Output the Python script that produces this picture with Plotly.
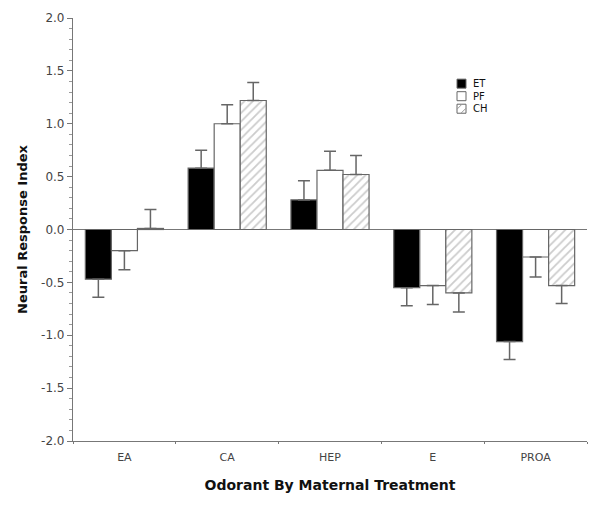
import plotly.graph_objects as go

odorants = ["EA", "CA", "HEP", "E", "PROA"]
treatments = ["ET", "PF", "CH"]
et_vals = [-0.47, 0.58, 0.28, -0.55, -1.06]
pf_vals = [-0.20, 1.00, 0.56, -0.53, -0.26]
ch_vals = [0.01, 1.22, 0.52, -0.60, -0.53]
et_err = [0.17, 0.17, 0.18, 0.17, 0.17]
pf_err = [0.18, 0.18, 0.18, 0.18, 0.19]
ch_err = [0.18, 0.17, 0.18, 0.18, 0.17]
y_ticks = [-2.0, -1.5, -1.0, -0.5, 0.0, 0.5, 1.0, 1.5, 2.0]

EDGE = "#666666"
HATCH = "#999999"

def err_arrays(vals, errs):
    up = [e if v >= 0 else 0 for v, e in zip(vals, errs)]
    dn = [e if v < 0 else 0 for v, e in zip(vals, errs)]
    return up, dn

styles = {
    "ET": dict(marker_color="black", marker_pattern=dict(shape="")),
    "PF": dict(marker_color="white", marker_pattern=dict(shape="")),
    "CH": dict(marker_color="white",
               marker_pattern=dict(shape="/", fgcolor=HATCH, size=6, solidity=0.3)),
}

fig = go.Figure()
for name, vals, errs in [("ET", et_vals, et_err), ("PF", pf_vals, pf_err), ("CH", ch_vals, ch_err)]:
    up, dn = err_arrays(vals, errs)
    fig.add_trace(go.Bar(
        x=odorants, y=vals, name=name, showlegend=False,
        marker_line=dict(color=EDGE, width=1.2),
        error_y=dict(type="data", symmetric=False, array=up, arrayminus=dn,
                     color=EDGE, thickness=1.5, width=6),
        **styles[name],
    ))

# compact legend (plot-area pixel layout -> paper coordinates)
PW, PH = 514, 422
def px(x): return x / PW
def py(y): return 1 - y / PH
leg_x, leg_y0, sq, step = 384, 61, 9, 12.5
fills = {"ET": "black", "PF": "white", "CH": "white"}
for i, name in enumerate(treatments):
    top = leg_y0 + i * step
    fig.add_shape(type="rect", xref="paper", yref="paper",
                  x0=px(leg_x), x1=px(leg_x + sq), y0=py(top + sq), y1=py(top),
                  fillcolor=fills[name], line=dict(color=EDGE, width=1))
    if name == "CH":
        for a, b in [(0, 5), (4, 9)]:
            fig.add_shape(type="line", xref="paper", yref="paper",
                          x0=px(leg_x + a), y0=py(top + b), x1=px(leg_x + b), y1=py(top + a),
                          line=dict(color=HATCH, width=1))
    fig.add_annotation(xref="paper", yref="paper", x=px(leg_x + sq + 5), y=py(top + sq / 2),
                       text=name, showarrow=False, xanchor="left", yanchor="middle",
                       font=dict(size=10, color="#111111"))

fig.update_layout(
    width=600, height=505,
    margin=dict(l=65, r=21, t=10, b=72),
    paper_bgcolor="white", plot_bgcolor="white",
    barmode="group", bargap=0.24, bargroupgap=0,
    font=dict(family="DejaVu Sans", color="#333333", size=11),
    showlegend=False,
)
fig.update_xaxes(
    automargin=False,
    showline=True, linecolor="#777777", linewidth=1.2,
    ticks="outside", ticklen=2, tickcolor="#777777", tickson="boundaries",
    ticklabelstandoff=6,
    tickfont=dict(size=11, color="#444444"),
    title=dict(text="<b>Odorant By Maternal Treatment</b>", font=dict(size=14, color="#111111"), standoff=16),
    showgrid=False, zeroline=False,
)
fig.update_yaxes(
    automargin=False,
    range=[-2, 2], tickvals=y_ticks, ticktext=[f"{v:.1f}" for v in y_ticks],
    showline=True, linecolor="#777777", linewidth=1.2,
    ticks="outside", ticklen=5, tickcolor="#777777",
    minor=dict(dtick=0.1, ticks="outside", ticklen=3, tickcolor="#999999"),
    tickfont=dict(size=12, color="#444444"),
    title=dict(text="<b>Neural Response Index</b>", font=dict(size=13, color="#111111"), standoff=10),
    showgrid=False, zeroline=True, zerolinecolor="#777777", zerolinewidth=1.2,
)

fig.write_html("out.html")
